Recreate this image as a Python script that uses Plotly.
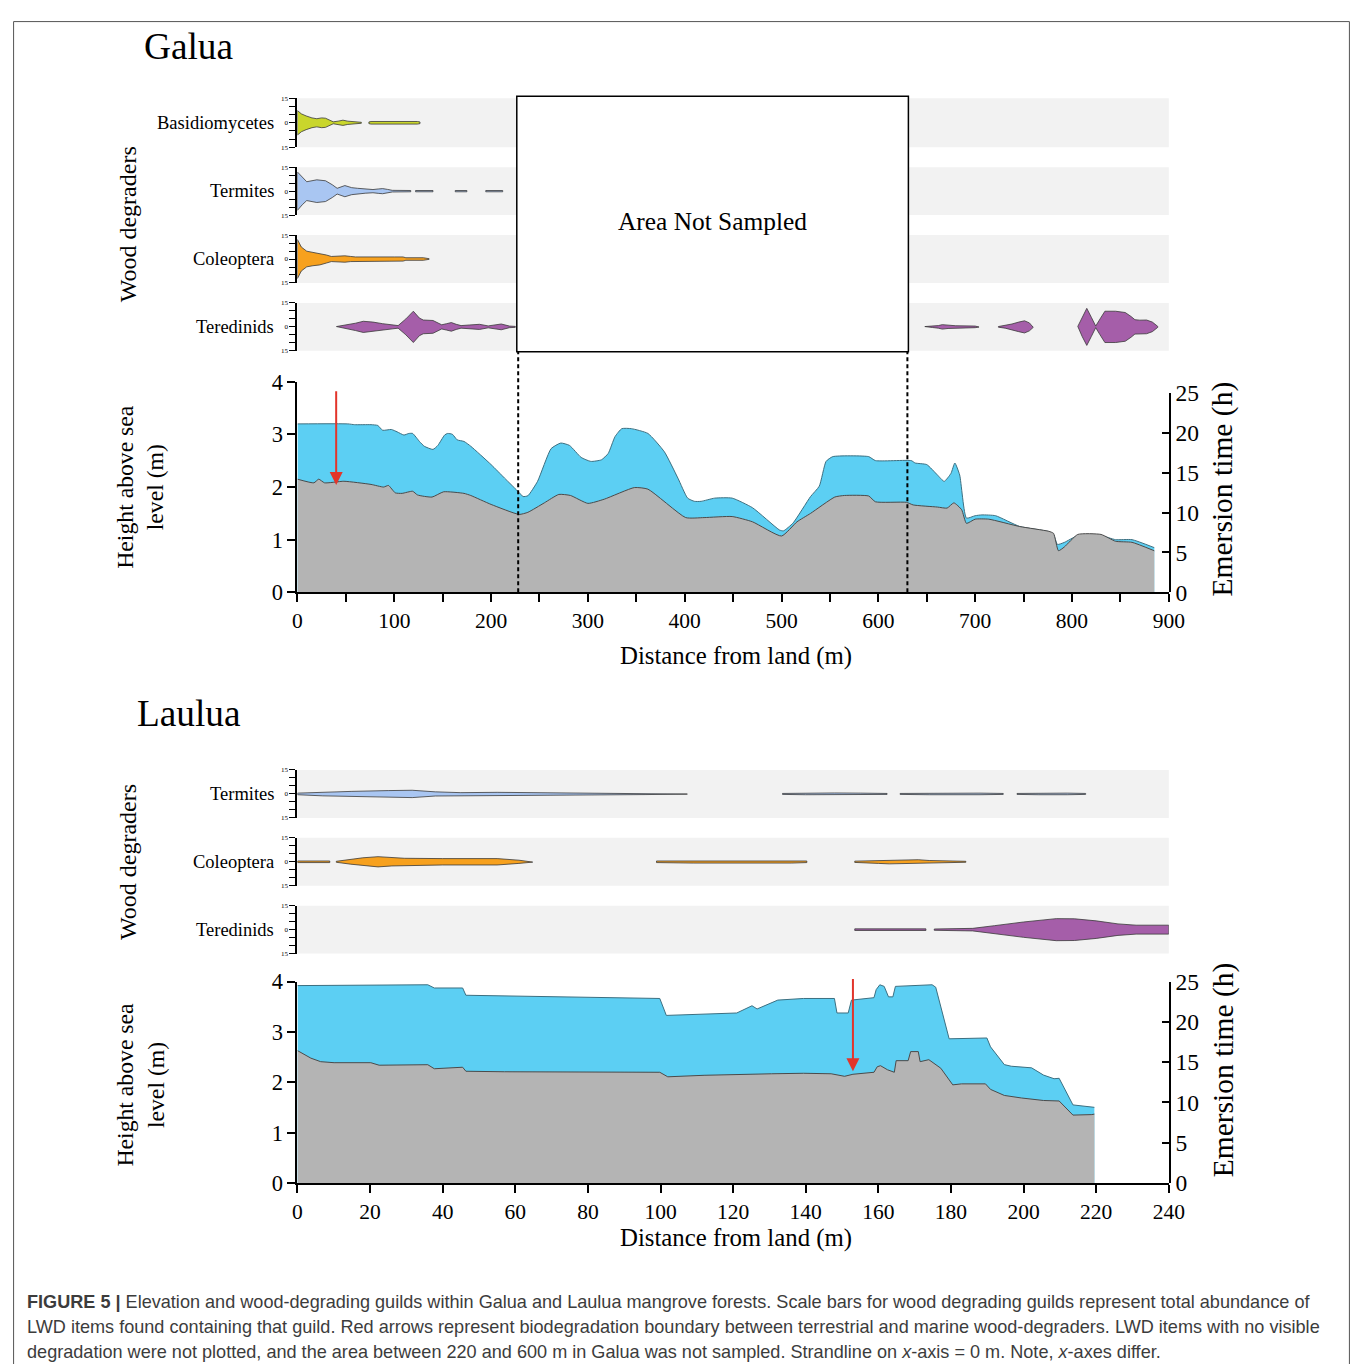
import plotly.graph_objects as go

# Figure canvas. The captured page is seen slightly scaled/shifted, so reference
# pixel positions are mapped through (R - OFF) / S before converting to paper coords.
W, H = 1358, 1369
S = 0.983
OFFX, OFFY = 13.0, 19.5
SERIF = "Liberation Serif, Times New Roman, serif"
SANS = "Liberation Sans, Arial, sans-serif"

# ---------------- Galua data ----------------
galua_elev_x = [0, 17, 22, 28, 48, 76, 89, 94, 101, 108, 119, 124, 139, 151, 172, 179, 200, 229, 238, 255,
                270, 282, 300, 317, 348, 362, 401, 420, 449, 470, 500, 516, 530, 555, 565, 590, 597, 629, 636,
                661, 671, 678, 686, 691, 700, 714, 746, 776, 781, 786, 792, 806, 830, 845, 862, 885]
galua_elev_m = [2.15, 2.08, 2.15, 2.08, 2.11, 2.05, 2.0, 2.03, 1.89, 1.88, 1.92, 1.85, 1.81, 1.91, 1.88, 1.84,
                1.67, 1.48, 1.52, 1.70, 1.86, 1.84, 1.69, 1.77, 1.99, 1.96, 1.42, 1.42, 1.44, 1.34, 1.07, 1.34,
                1.50, 1.81, 1.84, 1.83, 1.72, 1.71, 1.66, 1.62, 1.60, 1.70, 1.57, 1.31, 1.39, 1.39, 1.25, 1.16,
                1.12, 0.79, 0.86, 1.10, 1.10, 0.97, 0.95, 0.79]
galua_emer_x = [0, 52, 59, 76, 83, 88, 97, 103, 110, 115, 119, 126, 131, 140, 145, 152, 155, 160, 165, 172,
                179, 200, 214, 229, 233, 238, 248, 262, 272, 281, 293, 303, 314, 321, 328, 335, 345, 362, 379,
                393, 403, 410, 417, 431, 449, 470, 498, 502, 512, 530, 539, 546, 553, 590, 597, 634, 638, 650,
                661, 668, 675, 679, 684, 691, 700, 707, 721, 746, 776, 781, 785, 792, 806, 830, 845, 862, 885]
galua_emer_h = [21.1, 21.1, 21.0, 21.0, 20.9, 20.3, 20.4, 20.1, 19.7, 19.9, 19.9, 18.9, 18.3, 17.9, 18.4, 19.7,
                19.9, 19.8, 19.1, 18.9, 18.3, 16.0, 14.3, 12.5, 12.0, 12.1, 13.9, 18.0, 18.7, 18.4, 16.9, 16.4,
                16.6, 17.4, 19.5, 20.5, 20.5, 19.9, 17.6, 14.3, 11.8, 11.4, 11.4, 11.8, 11.8, 10.6, 7.8, 7.7,
                8.7, 12.0, 13.3, 16.4, 17.0, 17.0, 16.5, 16.5, 16.2, 16.0, 14.7, 13.9, 14.9, 16.2, 14.7, 9.3,
                9.6, 9.7, 9.6, 8.25, 7.6, 7.2, 6.0, 6.25, 7.1, 7.1, 6.6, 6.6, 5.6]

galua_basidio_x = [[0, 4, 9, 15, 20, 25, 29, 37, 42, 47, 52, 57, 66], [73.8, 76, 124, 126.6]]
galua_basidio_h = [[7.5, 5.5, 4.2, 3.0, 2.5, 3.0, 2.8, 0.6, 1.0, 1.6, 1.0, 0.6, 0.3], [0.5, 0.8, 0.8, 0.5]]

galua_termites_x = [[0, 5, 9.6, 20, 29, 36, 41, 49, 56, 62, 70, 78, 84, 88, 93, 98, 117],
                    [122, 140], [163, 175], [194.5, 212]]
galua_termites_h = [[12.0, 8.5, 5.9, 7.1, 6.5, 4.0, 1.8, 3.5, 2.2, 1.8, 1.3, 1.0, 1.4, 1.6, 1.1, 0.5, 0.4],
                    [0.4, 0.4], [0.4, 0.4], [0.4, 0.4]]

galua_coleo_x = [[0, 4, 9.6, 16, 23, 30, 35, 42, 49, 55, 60, 100, 109, 112, 130, 136]]
galua_coleo_h = [[12.2, 7.5, 4.9, 4.2, 3.7, 2.5, 1.6, 1.8, 2.0, 1.6, 1.3, 1.3, 1.3, 0.8, 0.8, 0.2]]

galua_teredo_x = [[40.3, 50, 60, 68, 78, 88, 98.6, 104, 112, 119.7, 126, 130, 140, 149, 154, 159, 164, 169,
                   178, 188, 197, 204, 210.5, 219, 225],
                  [648, 656, 662, 666, 672, 680, 700, 704],
                  [724, 731, 738, 745, 751, 756, 760],
                  [806, 810.5, 815.3, 820, 824.5, 829, 834, 845, 855, 861, 865, 870, 877, 883, 888.6]]
galua_teredo_h = [[0.2, 1.0, 2.3, 3.5, 3.0, 2.0, 1.2, 0.8, 5.0, 9.8, 5.5, 4.3, 4.0, 1.3, 2.0, 2.7, 1.6, 0.8,
                   1.2, 1.6, 0.6, 1.2, 1.8, 0.5, 0.3],
                  [0.2, 0.4, 0.8, 1.4, 1.0, 0.7, 0.5, 0.1],
                  [0.2, 0.8, 1.8, 3.0, 3.8, 2.5, 0.3],
                  [0.3, 6.0, 11.6, 6.0, 0.5, 5.0, 9.8, 9.8, 9.0, 6.5, 4.5, 4.2, 4.3, 3.0, 0.3]]

galua_unsampled = [228, 630]
galua_arrow_x = 40
galua_arrow_from, galua_arrow_to = 3.85, 2.04

# ---------------- Laulua data ----------------
laulua_elev_x = [0, 1.8, 3.7, 6.4, 10.1, 20.2, 22.5, 35.9, 37.7, 45.5, 46.4, 57, 99.8, 102, 112, 130.6, 139.4,
                 147, 150.7, 153, 158.8, 159.7, 160.6, 162.5, 164.4, 164.9, 168.2, 168.9, 171, 171.5, 173.9,
                 177.2, 180.5, 182.9, 189.5, 190.9, 194.7, 199.4, 205.5, 209.8, 213.6, 218.8, 219.5]
laulua_elev_m = [2.63, 2.55, 2.48, 2.41, 2.39, 2.39, 2.34, 2.35, 2.27, 2.30, 2.22, 2.21, 2.20, 2.11, 2.14, 2.17,
                 2.18, 2.17, 2.12, 2.16, 2.20, 2.31, 2.33, 2.25, 2.20, 2.43, 2.43, 2.61, 2.61, 2.41, 2.45, 2.28,
                 1.95, 1.97, 1.97, 1.86, 1.74, 1.69, 1.64, 1.63, 1.35, 1.36, 1.37]
laulua_emer_x = [0, 35.9, 37.7, 45.5, 46.4, 99.8, 101.6, 111, 121, 125.2, 126.6, 132.3, 139.4, 147.9, 148.6,
                 151.7, 152.6, 158.8, 159.4, 160.4, 161.6, 162.8, 164, 164.7, 174.8, 175.8, 179.5, 189.9, 190.9,
                 194.7, 196.6, 202.2, 205.5, 208.4, 209.8, 213.6, 219.5]
laulua_emer_h = [24.5, 24.6, 24.2, 24.2, 23.3, 22.9, 20.8, 20.9, 21.1, 22.0, 21.6, 22.7, 22.9, 22.9, 21.1, 21.1,
                 22.7, 23.0, 24.0, 24.6, 24.4, 23.1, 23.1, 24.4, 24.6, 24.3, 17.9, 18.0, 16.9, 14.7, 14.5,
                 14.3, 13.4, 12.95, 13.0, 9.7, 9.4]

laulua_termites_x = [[0, 7, 15, 25, 31.6, 38, 45, 55, 64, 75, 96, 107.4],
                     [133.6, 140, 148, 155, 162.4], [166, 174, 181, 188, 194.4], [198.2, 204, 208, 212, 217.1]]
laulua_termites_h = [[0.5, 1.2, 1.6, 2.1, 2.3, 1.3, 0.8, 1.0, 0.8, 0.6, 0.4, 0.1],
                     [0.3, 0.5, 0.6, 0.5, 0.3], [0.3, 0.5, 0.6, 0.5, 0.3], [0.3, 0.5, 0.6, 0.5, 0.3]]

laulua_coleo_x = [[0, 8.9], [10.7, 14.7, 18, 22.2, 26, 29.5, 40, 55, 61, 64.8],
                  [98.9, 104, 109, 136, 140.3], [153.5, 157, 160, 163, 171, 174, 178, 184.1]]
laulua_coleo_h = [[0.5, 0.5], [0.3, 1.5, 2.5, 3.2, 2.6, 2.2, 2.0, 2.0, 1.0, 0.2],
                  [0.5, 0.5, 0.8, 0.8, 0.5], [0.4, 0.6, 1.0, 1.3, 1.3, 0.8, 0.6, 0.3]]

laulua_teredo_x = [[153.5, 173.1], [175.4, 186, 192, 200, 209, 214, 220, 226, 231, 240]]
laulua_teredo_h = [[0.5, 0.5], [0.4, 0.8, 2.5, 4.8, 6.9, 6.8, 5.5, 3.6, 2.8, 2.8]]

laulua_arrow_x = 153
laulua_arrow_from, laulua_arrow_to = 4.08, 2.22

galua_ticks = list(range(0, 901, 50))
galua_ticktext = [str(v) if v % 100 == 0 else "" for v in galua_ticks]
laulua_ticks = list(range(0, 241, 20))

guild_ticks = [-15, -10, -5, 0, 5, 10, 15]
guild_ticktext = ["15", "", "", "0", "", "", "15"]

COL_BASIDIO = "#c9d62c"
COL_TERM = "#a9c6f2"
COL_COLEO = "#f7a11e"
COL_TERED = "#a55ea9"
COL_BLUE = "#5ccff3"
COL_GRAY = "#b4b4b4"


def px(x):
    return ((x - OFFX) / S) / W


def py(y):
    return 1 - ((y - OFFY) / S) / H


def violin(xs_list, hs_list):
    X, Y = [], []
    for xs, hs in zip(xs_list, hs_list):
        X += list(xs) + list(xs[::-1]) + [xs[0], None]
        Y += list(hs) + [-h for h in hs[::-1]] + [hs[0], None]
    return X, Y


fig = go.Figure()

fig.add_trace(go.Scatter(x=galua_emer_x, y=galua_emer_h, xaxis="x", yaxis="y", mode="lines",
                         fill="tozeroy", fillcolor=COL_BLUE,
                         line=dict(color="#3c6f80", width=1, shape="spline", smoothing=0.5)))
fig.add_trace(go.Scatter(x=galua_elev_x, y=galua_elev_m, xaxis="x", yaxis="y2", mode="lines",
                         fill="tozeroy", fillcolor=COL_GRAY,
                         line=dict(color="#4a4a4a", width=1, shape="spline", smoothing=0.5)))

galua_guilds = [("y3", galua_basidio_x, galua_basidio_h, COL_BASIDIO),
                ("y4", galua_termites_x, galua_termites_h, COL_TERM),
                ("y5", galua_coleo_x, galua_coleo_h, COL_COLEO),
                ("y6", galua_teredo_x, galua_teredo_h, COL_TERED)]
for ax, xs, hs, col in galua_guilds:
    X, Y = violin(xs, hs)
    fig.add_trace(go.Scatter(x=X, y=Y, xaxis="x", yaxis=ax, mode="lines", fill="toself",
                             fillcolor=col, line=dict(color="#3a3a3a", width=0.8)))

fig.add_trace(go.Scatter(x=laulua_emer_x, y=laulua_emer_h, xaxis="x2", yaxis="y7", mode="lines",
                         fill="tozeroy", fillcolor=COL_BLUE, line=dict(color="#3c6f80", width=1)))
fig.add_trace(go.Scatter(x=laulua_elev_x, y=laulua_elev_m, xaxis="x2", yaxis="y8", mode="lines",
                         fill="tozeroy", fillcolor=COL_GRAY, line=dict(color="#4a4a4a", width=1)))

laulua_guilds = [("y9", laulua_termites_x, laulua_termites_h, COL_TERM),
                 ("y10", laulua_coleo_x, laulua_coleo_h, COL_COLEO),
                 ("y11", laulua_teredo_x, laulua_teredo_h, COL_TERED)]
for ax, xs, hs, col in laulua_guilds:
    X, Y = violin(xs, hs)
    fig.add_trace(go.Scatter(x=X, y=Y, xaxis="x2", yaxis=ax, mode="lines", fill="toself",
                             fillcolor=col, line=dict(color="#3a3a3a", width=0.8)))

XDOM = [px(297), px(1167)]


def xaxis(rng, vals, text, anchor):
    return dict(domain=XDOM, range=rng, anchor=anchor, tickvals=vals, ticktext=text,
                showline=True, linecolor="black", linewidth=2, ticks="outside", ticklen=8,
                tickwidth=1.5, tickcolor="black", showgrid=False, zeroline=False,
                tickfont=dict(family=SERIF, size=21.5, color="black"), fixedrange=True)


def yleft(top, bottom, anchor):
    return dict(domain=[py(bottom), py(top)], range=[0, 4], anchor=anchor, side="left",
                tickvals=[0, 1, 2, 3, 4], showline=True, linecolor="black", linewidth=2,
                ticks="outside", ticklen=8, tickwidth=1.5, tickcolor="black", showgrid=False,
                zeroline=False, tickfont=dict(family=SERIF, size=22.5, color="black"))


def yright(top, bottom, anchor):
    return dict(domain=[py(bottom), py(top)], range=[0, 25], anchor=anchor, side="right",
                tickvals=[0, 5, 10, 15, 20, 25], showline=True, linecolor="black", linewidth=2,
                ticks="inside", ticklen=7, tickwidth=1.5, tickcolor="black", showgrid=False,
                zeroline=False, tickfont=dict(family=SERIF, size=23.5, color="black"))


def yguild(top, bottom, anchor):
    return dict(domain=[py(bottom), py(top)], range=[-15, 15], anchor=anchor, side="left",
                tickvals=guild_ticks, ticktext=guild_ticktext, showline=True, linecolor="black",
                linewidth=2, ticks="outside", ticklen=6, tickwidth=1.2, tickcolor="black",
                showgrid=False, zeroline=False, tickfont=dict(family=SERIF, size=7, color="black"))


galua_rows = [(97, 146), (166, 214), (234, 282), (302, 350)]
laulua_rows = [(770, 818), (838, 886), (906, 954)]

layout = dict(
    width=W, height=H, margin=dict(l=0, r=0, t=0, b=0), paper_bgcolor="white",
    plot_bgcolor="rgba(0,0,0,0)", showlegend=False, hovermode=False,
    xaxis=xaxis([0, 900], galua_ticks, galua_ticktext, "y2"),
    yaxis=yright(392, 592, "x"),
    yaxis2=yleft(381, 592, "x"),
    xaxis2=xaxis([0, 240], laulua_ticks, [str(v) for v in laulua_ticks], "y8"),
    yaxis7=yright(982, 1184, "x2"),
    yaxis8=yleft(982, 1184, "x2"),
)
for i, (t, b) in enumerate(galua_rows):
    layout["yaxis%d" % (3 + i)] = yguild(t, b, "x")
for i, (t, b) in enumerate(laulua_rows):
    layout["yaxis%d" % (9 + i)] = yguild(t, b, "x2")
fig.update_layout(**layout)

shapes = []
for t, b in galua_rows + laulua_rows:
    shapes.append(dict(type="rect", xref="paper", yref="paper", x0=px(297), x1=px(1167),
                       y0=py(b), y1=py(t), fillcolor="#f2f2f2", line=dict(width=0), layer="below"))
for xv in galua_unsampled:
    shapes.append(dict(type="line", xref="x", yref="paper", x0=xv, x1=xv, y0=py(592), y1=py(351),
                       line=dict(color="black", width=2, dash="4px,3px")))
shapes.append(dict(type="rect", xref="paper", yref="paper", x0=px(516), x1=px(907),
                   y0=py(351), y1=py(95), fillcolor="white", line=dict(color="black", width=1.5),
                   layer="above"))
# outer frame (top, left, right), clamped to the canvas
FR_L, FR_R, FR_T = 0.6 / W, 1 - 0.6 / H, 1 - 0.6 / H
for x0, y0, x1, y1 in [(FR_L, FR_T, FR_R, FR_T), (FR_L, FR_T, FR_L, 0), (FR_R, FR_T, FR_R, 0)]:
    shapes.append(dict(type="line", xref="paper", yref="paper", x0=x0, x1=x1, y0=y0, y1=y1,
                       line=dict(color="#555555", width=1)))
fig.update_layout(shapes=shapes)

ann = []


def text(x, y, s, size, xanchor="center", angle=0, family=SERIF, color="black"):
    ann.append(dict(xref="paper", yref="paper", x=px(x), y=py(y), text=s, showarrow=False,
                    xanchor=xanchor, yanchor="middle", textangle=angle,
                    font=dict(family=family, size=size, color=color)))


text(142, 45, "Galua", 37.3, xanchor="left")
text(135, 713, "Laulua", 37.3, xanchor="left")
text(711, 220, "Area Not Sampled", 25.4)
for (t, b), name in zip(galua_rows, ["Basidiomycetes", "Termites", "Coleoptera", "Teredinids"]):
    text(276, (t + b) / 2, name, 18.5, xanchor="right")
for (t, b), name in zip(laulua_rows, ["Termites", "Coleoptera", "Teredinids"]):
    text(276, (t + b) / 2, name, 18.5, xanchor="right")
text(128, 223, "Wood degraders", 24, angle=-90)
text(128, 862, "Wood degraders", 24, angle=-90)
text(140, 486, "Height above sea<br>level (m)", 23.7, angle=-90)
text(140, 1085, "Height above sea<br>level (m)", 23.7, angle=-90)
text(1221, 488, "Emersion time (h)", 29.5, angle=-90)
text(1221, 1070, "Emersion time (h)", 29.5, angle=-90)
text(735, 656, "Distance from land (m)", 24.8)
text(735, 1239, "Distance from land (m)", 24.8)

cap_col = "#3c3c3c"
cap_size = 18.1
text(25, 1303, "<b>FIGURE 5 |</b> Elevation and wood-degrading guilds within Galua and Laulua mangrove forests. "
               "Scale bars for wood degrading guilds represent total abundance of", cap_size, xanchor="left",
     family=SANS, color=cap_col)
text(25, 1328, "LWD items found containing that guild. Red arrows represent biodegradation boundary between "
               "terrestrial and marine wood-degraders. LWD items with no visible", cap_size, xanchor="left",
     family=SANS, color=cap_col)
text(25, 1353, "degradation were not plotted, and the area between 220 and 600 m in Galua was not sampled. "
               "Strandline on <i>x</i>-axis = 0 m. Note, <i>x</i>-axes differ.", cap_size, xanchor="left",
     family=SANS, color=cap_col)

for xr, yr, xv, y0, y1 in [("x", "y2", galua_arrow_x, galua_arrow_from, galua_arrow_to),
                           ("x2", "y8", laulua_arrow_x, laulua_arrow_from, laulua_arrow_to)]:
    ann.append(dict(xref=xr, yref=yr, x=xv, y=y1, ax=xv, ay=y0, axref=xr, ayref=yr, text="",
                    showarrow=True, arrowhead=2, arrowsize=1.3, arrowwidth=2, arrowcolor="#e2352b"))

fig.update_layout(annotations=ann)
fig.write_html("out.html")
